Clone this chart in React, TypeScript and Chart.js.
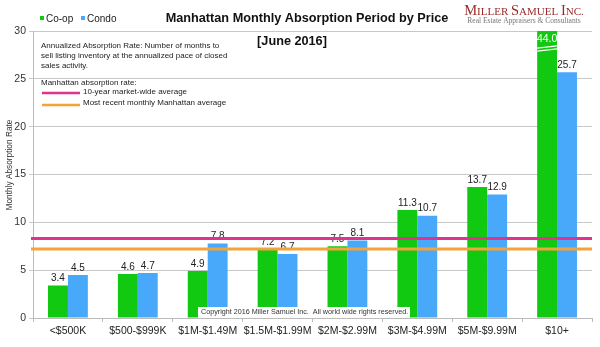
import React, { useEffect, useRef } from "react";
import { Chart, registerables } from "chart.js";

Chart.register(...registerables);

const categories = ["<$500K", "$500-$999K", "$1M-$1.49M", "$1.5M-$1.99M", "$2M-$2.99M", "$3M-$4.99M", "$5M-$9.99M", "$10+"];
const coopValues = [3.4, 4.6, 4.9, 7.2, 7.5, 11.3, 13.7, 44.0];
const condoValues = [4.5, 4.7, 7.8, 6.7, 8.1, 10.7, 12.9, 25.7];
const tenYearAverage = 8.3;
const recentAverage = 7.2;
const yMin = 0;
const yMax = 30;
const yStep = 5;

const FONT = "Arial, 'Liberation Sans', Helvetica, sans-serif";
const SERIF = "'Liberation Serif', 'DejaVu Serif', serif";
const GREEN = "#12C912";
const BLUE = "#48A9FA";
const PINK = "#E0338E";
const ORANGE = "#F2A33A";

const overlayPlugin = {
  id: "overlay",
  afterDatasetsDraw(chart: any) {
    const ctx = chart.ctx;
    const area = chart.chartArea;
    const ys = chart.scales.y;
    ctx.save();
    // value labels
    chart.data.datasets.forEach((ds: any, di: number) => {
      const meta = chart.getDatasetMeta(di);
      meta.data.forEach((bar: any, j: number) => {
        const v = ds.data[j];
        const label = v.toFixed(1);
        ctx.font = `10px ${FONT}`;
        ctx.textAlign = "center";
        if (v > yMax) {
          const left = bar.x - bar.width / 2;
          const right = bar.x + bar.width / 2;
          ctx.fillStyle = "#ffffff";
          ctx.textBaseline = "middle";
          ctx.font = `10.5px ${FONT}`;
          ctx.fillText(label, bar.x, area.top + 8);
          ctx.strokeStyle = "#ffffff";
          ctx.lineWidth = 1.2;
          for (const off of [16, 19]) {
            ctx.beginPath();
            ctx.moveTo(left, area.top + off + 1.2);
            ctx.lineTo(right, area.top + off - 1.2);
            ctx.stroke();
          }
        } else {
          ctx.fillStyle = "#222";
          ctx.textBaseline = "bottom";
          ctx.fillText(label, bar.x, bar.y - 2);
        }
      });
    });
    // reference lines
    const drawRef = (val: number, color: string) => {
      const y = ys.getPixelForValue(val);
      ctx.strokeStyle = color;
      ctx.lineWidth = 3;
      ctx.beginPath();
      ctx.moveTo(area.left - 2, y);
      ctx.lineTo(area.right, y);
      ctx.stroke();
    };
    drawRef(tenYearAverage, PINK);
    drawRef(recentAverage, ORANGE);

    // copyright box
    ctx.fillStyle = "#ffffff";
    ctx.fillRect(198, 307, 212, 11);
    ctx.fillStyle = "#333";
    ctx.font = `7.2px ${FONT}`;
    ctx.textAlign = "left";
    ctx.textBaseline = "middle";
    ctx.fillText("Copyright 2016 Miller Samuel Inc.  All world wide rights reserved.", 201, 312.5);

    // annotation text
    ctx.fillStyle = "#222";
    ctx.font = `8px ${FONT}`;
    ctx.textBaseline = "middle";
    ctx.fillText("Annualized Absorption Rate: Number of months to", 41, 46);
    ctx.fillText("sell listing inventory at the annualized pace of closed", 41, 56);
    ctx.fillText("sales activity.", 41, 66);
    ctx.fillText("Manhattan absorption rate:", 41, 83);
    ctx.fillText("10-year market-wide average", 83, 92);
    ctx.fillText("Most recent monthly Manhattan average", 83, 103);
    ctx.lineWidth = 2.5;
    ctx.strokeStyle = PINK;
    ctx.beginPath();
    ctx.moveTo(42, 93);
    ctx.lineTo(80, 93);
    ctx.stroke();
    ctx.strokeStyle = ORANGE;
    ctx.beginPath();
    ctx.moveTo(42, 105);
    ctx.lineTo(80, 105);
    ctx.stroke();

    // title
    ctx.fillStyle = "#111";
    ctx.textAlign = "center";
    ctx.font = `bold 12.7px ${FONT}`;
    ctx.fillText("Manhattan Monthly Absorption Period by Price", 307, 18);
    ctx.fillText("[June 2016]", 292, 41);

    // legend
    ctx.textAlign = "left";
    ctx.font = `10px ${FONT}`;
    ctx.fillStyle = GREEN;
    ctx.fillRect(40, 16, 4, 4);
    ctx.fillStyle = "#222";
    ctx.fillText("Co-op", 46, 19);
    ctx.fillStyle = BLUE;
    ctx.fillRect(81, 16, 4, 4);
    ctx.fillStyle = "#222";
    ctx.fillText("Condo", 87, 19);

    // logo
    ctx.fillStyle = "#9B2B2B";
    const parts: [string, number][] = [["M", 14.5], ["ILLER ", 11], ["S", 14.5], ["AMUEL ", 11], ["I", 14.5], ["NC.", 11]];
    let total = 0;
    parts.forEach(([t, s]) => { ctx.font = `${s}px ${SERIF}`; total += ctx.measureText(t).width; });
    let x = 524 - total / 2;
    ctx.textAlign = "left";
    ctx.textBaseline = "alphabetic";
    parts.forEach(([t, s]) => {
      ctx.font = `${s}px ${SERIF}`;
      ctx.fillText(t, x, 15);
      x += ctx.measureText(t).width;
    });
    ctx.textAlign = "center";
    ctx.fillStyle = "#777";
    ctx.font = `7.5px ${SERIF}`;
    ctx.fillText("Real Estate Appraisers & Consultants", 524, 23);

    // y title
    ctx.save();
    ctx.translate(10, 165);
    ctx.rotate(-Math.PI / 2);
    ctx.fillStyle = "#333";
    ctx.font = `8.3px ${FONT}`;
    ctx.textAlign = "center";
    ctx.textBaseline = "middle";
    ctx.fillText("Monthly Absorption Rate", 0, 0);
    ctx.restore();

    ctx.restore();
  },
};

export default function App() {
  const ref = useRef<HTMLCanvasElement | null>(null);
  useEffect(() => {
    if (!ref.current) return;
    const chart = new Chart(ref.current, {
      type: "bar",
      data: {
        labels: categories,
        datasets: [
          { label: "Co-op", data: coopValues, backgroundColor: GREEN, categoryPercentage: 0.57, barPercentage: 1.0, clip: 0 } as any,
          { label: "Condo", data: condoValues, backgroundColor: BLUE, categoryPercentage: 0.57, barPercentage: 1.0, clip: 0 } as any,
        ],
      },
      options: {
        responsive: false,
        animation: false,
        layout: { padding: { top: 31, right: 8, bottom: 0, left: 0 } },
        plugins: { legend: { display: false }, title: { display: false }, tooltip: { enabled: false } },
        scales: {
          x: {
            offset: true,
            grid: { display: true, drawOnChartArea: false, tickLength: 4, color: "#bbb", offset: true },
            border: { color: "#bbb" },
            ticks: { color: "#222", font: { size: 10.5, family: FONT }, padding: 3, maxRotation: 0, autoSkip: false },
            afterFit: (s: any) => { s.height = 29; },
          },
          y: {
            min: yMin,
            max: yMax,
            ticks: { stepSize: yStep, color: "#333", font: { size: 10.5, family: FONT }, padding: 3 },
            grid: { color: "#c8c8c8", tickLength: 4 },
            border: { color: "#bbb" },
            afterFit: (s: any) => { s.width = 33; },
          },
        },
      },
      plugins: [overlayPlugin],
    });
    return () => chart.destroy();
  }, []);
  return (
    <div style={{ position: "fixed", left: 0, top: 0, width: 600, height: 347, background: "#fff" }}>
      <canvas ref={ref} width={600} height={347} style={{ display: "block" }} />
    </div>
  );
}
